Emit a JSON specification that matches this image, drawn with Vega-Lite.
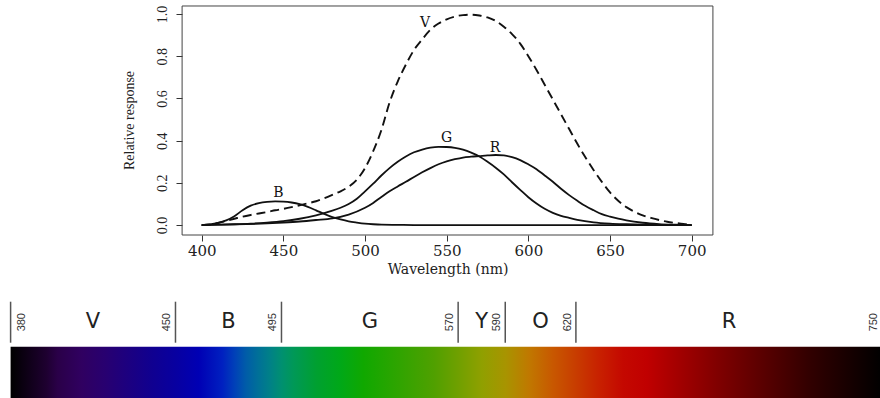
{
  "$schema": "https://vega.github.io/schema/vega-lite/v6.json",
  "padding": 0,
  "background": "white",
  "config": {"view": {"stroke": null}},
  "bounds": "flush",
  "spacing": 66.7,
  "datasets": {
    "curves": [
      {"curve": "V", "wl": 400, "resp": 0.0}, {"curve": "V", "wl": 405, "resp": 0.003}, {"curve": "V", "wl": 410, "resp": 0.01}, {"curve": "V", "wl": 415, "resp": 0.02},
      {"curve": "V", "wl": 420, "resp": 0.03}, {"curve": "V", "wl": 425, "resp": 0.04}, {"curve": "V", "wl": 430, "resp": 0.048}, {"curve": "V", "wl": 435, "resp": 0.055},
      {"curve": "V", "wl": 440, "resp": 0.062}, {"curve": "V", "wl": 445, "resp": 0.07}, {"curve": "V", "wl": 450, "resp": 0.077}, {"curve": "V", "wl": 455, "resp": 0.085},
      {"curve": "V", "wl": 460, "resp": 0.094}, {"curve": "V", "wl": 465, "resp": 0.103}, {"curve": "V", "wl": 470, "resp": 0.113}, {"curve": "V", "wl": 475, "resp": 0.127},
      {"curve": "V", "wl": 480, "resp": 0.143}, {"curve": "V", "wl": 485, "resp": 0.16}, {"curve": "V", "wl": 490, "resp": 0.182}, {"curve": "V", "wl": 495, "resp": 0.215},
      {"curve": "V", "wl": 500, "resp": 0.27}, {"curve": "V", "wl": 505, "resp": 0.35}, {"curve": "V", "wl": 510, "resp": 0.45}, {"curve": "V", "wl": 515, "resp": 0.58},
      {"curve": "V", "wl": 520, "resp": 0.68}, {"curve": "V", "wl": 525, "resp": 0.76}, {"curve": "V", "wl": 530, "resp": 0.83}, {"curve": "V", "wl": 535, "resp": 0.88},
      {"curve": "V", "wl": 540, "resp": 0.925}, {"curve": "V", "wl": 545, "resp": 0.955}, {"curve": "V", "wl": 550, "resp": 0.975}, {"curve": "V", "wl": 555, "resp": 0.988},
      {"curve": "V", "wl": 560, "resp": 0.995}, {"curve": "V", "wl": 565, "resp": 0.997}, {"curve": "V", "wl": 570, "resp": 0.993}, {"curve": "V", "wl": 575, "resp": 0.984},
      {"curve": "V", "wl": 580, "resp": 0.967}, {"curve": "V", "wl": 585, "resp": 0.94}, {"curve": "V", "wl": 590, "resp": 0.905}, {"curve": "V", "wl": 595, "resp": 0.86},
      {"curve": "V", "wl": 600, "resp": 0.8}, {"curve": "V", "wl": 605, "resp": 0.735}, {"curve": "V", "wl": 610, "resp": 0.665}, {"curve": "V", "wl": 615, "resp": 0.595},
      {"curve": "V", "wl": 620, "resp": 0.525}, {"curve": "V", "wl": 625, "resp": 0.455}, {"curve": "V", "wl": 630, "resp": 0.385}, {"curve": "V", "wl": 635, "resp": 0.32},
      {"curve": "V", "wl": 640, "resp": 0.26}, {"curve": "V", "wl": 645, "resp": 0.205}, {"curve": "V", "wl": 650, "resp": 0.155}, {"curve": "V", "wl": 655, "resp": 0.115},
      {"curve": "V", "wl": 660, "resp": 0.085}, {"curve": "V", "wl": 665, "resp": 0.063}, {"curve": "V", "wl": 670, "resp": 0.046}, {"curve": "V", "wl": 675, "resp": 0.034},
      {"curve": "V", "wl": 680, "resp": 0.024}, {"curve": "V", "wl": 685, "resp": 0.016}, {"curve": "V", "wl": 690, "resp": 0.01}, {"curve": "V", "wl": 695, "resp": 0.005},
      {"curve": "V", "wl": 700, "resp": 0.002},
      {"curve": "B", "wl": 400, "resp": 0.0}, {"curve": "B", "wl": 405, "resp": 0.003}, {"curve": "B", "wl": 410, "resp": 0.01}, {"curve": "B", "wl": 415, "resp": 0.022},
      {"curve": "B", "wl": 420, "resp": 0.042}, {"curve": "B", "wl": 425, "resp": 0.07}, {"curve": "B", "wl": 430, "resp": 0.092}, {"curve": "B", "wl": 435, "resp": 0.104},
      {"curve": "B", "wl": 440, "resp": 0.11}, {"curve": "B", "wl": 445, "resp": 0.112}, {"curve": "B", "wl": 450, "resp": 0.111}, {"curve": "B", "wl": 455, "resp": 0.107},
      {"curve": "B", "wl": 460, "resp": 0.099}, {"curve": "B", "wl": 465, "resp": 0.086}, {"curve": "B", "wl": 470, "resp": 0.07}, {"curve": "B", "wl": 475, "resp": 0.053},
      {"curve": "B", "wl": 480, "resp": 0.038}, {"curve": "B", "wl": 485, "resp": 0.027}, {"curve": "B", "wl": 490, "resp": 0.018}, {"curve": "B", "wl": 495, "resp": 0.012},
      {"curve": "B", "wl": 500, "resp": 0.007}, {"curve": "B", "wl": 505, "resp": 0.004}, {"curve": "B", "wl": 510, "resp": 0.002}, {"curve": "B", "wl": 520, "resp": 0.001},
      {"curve": "B", "wl": 530, "resp": 0.0}, {"curve": "B", "wl": 600, "resp": 0.0}, {"curve": "B", "wl": 700, "resp": 0.0},
      {"curve": "G", "wl": 400, "resp": 0.0}, {"curve": "G", "wl": 410, "resp": 0.002}, {"curve": "G", "wl": 420, "resp": 0.004}, {"curve": "G", "wl": 430, "resp": 0.007},
      {"curve": "G", "wl": 440, "resp": 0.012}, {"curve": "G", "wl": 450, "resp": 0.019}, {"curve": "G", "wl": 460, "resp": 0.03}, {"curve": "G", "wl": 470, "resp": 0.046},
      {"curve": "G", "wl": 480, "resp": 0.068}, {"curve": "G", "wl": 485, "resp": 0.082}, {"curve": "G", "wl": 490, "resp": 0.1}, {"curve": "G", "wl": 495, "resp": 0.125},
      {"curve": "G", "wl": 500, "resp": 0.16}, {"curve": "G", "wl": 505, "resp": 0.196}, {"curve": "G", "wl": 510, "resp": 0.235}, {"curve": "G", "wl": 515, "resp": 0.27},
      {"curve": "G", "wl": 520, "resp": 0.3}, {"curve": "G", "wl": 525, "resp": 0.325}, {"curve": "G", "wl": 530, "resp": 0.345}, {"curve": "G", "wl": 535, "resp": 0.358},
      {"curve": "G", "wl": 540, "resp": 0.367}, {"curve": "G", "wl": 545, "resp": 0.371}, {"curve": "G", "wl": 550, "resp": 0.37}, {"curve": "G", "wl": 555, "resp": 0.366},
      {"curve": "G", "wl": 560, "resp": 0.357}, {"curve": "G", "wl": 565, "resp": 0.343}, {"curve": "G", "wl": 570, "resp": 0.325}, {"curve": "G", "wl": 575, "resp": 0.3},
      {"curve": "G", "wl": 580, "resp": 0.272}, {"curve": "G", "wl": 585, "resp": 0.24}, {"curve": "G", "wl": 590, "resp": 0.203}, {"curve": "G", "wl": 595, "resp": 0.167},
      {"curve": "G", "wl": 600, "resp": 0.132}, {"curve": "G", "wl": 605, "resp": 0.102}, {"curve": "G", "wl": 610, "resp": 0.077}, {"curve": "G", "wl": 615, "resp": 0.058},
      {"curve": "G", "wl": 620, "resp": 0.044}, {"curve": "G", "wl": 625, "resp": 0.034}, {"curve": "G", "wl": 630, "resp": 0.025}, {"curve": "G", "wl": 640, "resp": 0.013},
      {"curve": "G", "wl": 650, "resp": 0.007}, {"curve": "G", "wl": 660, "resp": 0.004}, {"curve": "G", "wl": 670, "resp": 0.002}, {"curve": "G", "wl": 685, "resp": 0.001},
      {"curve": "G", "wl": 700, "resp": 0.0},
      {"curve": "R", "wl": 400, "resp": 0.0}, {"curve": "R", "wl": 420, "resp": 0.003}, {"curve": "R", "wl": 440, "resp": 0.008}, {"curve": "R", "wl": 450, "resp": 0.012},
      {"curve": "R", "wl": 460, "resp": 0.017}, {"curve": "R", "wl": 470, "resp": 0.024}, {"curve": "R", "wl": 480, "resp": 0.032}, {"curve": "R", "wl": 490, "resp": 0.05},
      {"curve": "R", "wl": 500, "resp": 0.082}, {"curve": "R", "wl": 505, "resp": 0.105}, {"curve": "R", "wl": 510, "resp": 0.133}, {"curve": "R", "wl": 515, "resp": 0.16},
      {"curve": "R", "wl": 520, "resp": 0.183}, {"curve": "R", "wl": 525, "resp": 0.205}, {"curve": "R", "wl": 530, "resp": 0.228}, {"curve": "R", "wl": 535, "resp": 0.25},
      {"curve": "R", "wl": 540, "resp": 0.27}, {"curve": "R", "wl": 545, "resp": 0.288}, {"curve": "R", "wl": 550, "resp": 0.302}, {"curve": "R", "wl": 555, "resp": 0.312},
      {"curve": "R", "wl": 560, "resp": 0.32}, {"curve": "R", "wl": 565, "resp": 0.324}, {"curve": "R", "wl": 570, "resp": 0.327}, {"curve": "R", "wl": 575, "resp": 0.33},
      {"curve": "R", "wl": 580, "resp": 0.332}, {"curve": "R", "wl": 585, "resp": 0.33}, {"curve": "R", "wl": 590, "resp": 0.322}, {"curve": "R", "wl": 595, "resp": 0.308},
      {"curve": "R", "wl": 600, "resp": 0.288}, {"curve": "R", "wl": 605, "resp": 0.265}, {"curve": "R", "wl": 610, "resp": 0.235}, {"curve": "R", "wl": 615, "resp": 0.205},
      {"curve": "R", "wl": 620, "resp": 0.172}, {"curve": "R", "wl": 625, "resp": 0.142}, {"curve": "R", "wl": 630, "resp": 0.115}, {"curve": "R", "wl": 635, "resp": 0.09},
      {"curve": "R", "wl": 640, "resp": 0.07}, {"curve": "R", "wl": 645, "resp": 0.052}, {"curve": "R", "wl": 650, "resp": 0.04}, {"curve": "R", "wl": 655, "resp": 0.03},
      {"curve": "R", "wl": 660, "resp": 0.022}, {"curve": "R", "wl": 670, "resp": 0.011}, {"curve": "R", "wl": 680, "resp": 0.005}, {"curve": "R", "wl": 690, "resp": 0.002},
      {"curve": "R", "wl": 700, "resp": 0.0}
    ],
    "curveLabels": [
      {"label": "V", "wl": 536.7, "resp": 0.956},
      {"label": "G", "wl": 550, "resp": 0.411},
      {"label": "R", "wl": 579.6, "resp": 0.366},
      {"label": "B", "wl": 446.9, "resp": 0.15}
    ],
    "frame": [{"wl": 388, "wl2": 713, "resp": -0.047, "resp2": 1.038}],
    "bands": [
      {"band": "V", "start": 380, "end": 450, "mid": 415},
      {"band": "B", "start": 450, "end": 495, "mid": 472.5},
      {"band": "G", "start": 495, "end": 570, "mid": 532.5},
      {"band": "Y", "start": 570, "end": 590, "mid": 580},
      {"band": "O", "start": 590, "end": 620, "mid": 605},
      {"band": "R", "start": 620, "end": 750, "mid": 685}
    ],
    "bounds": [{"nm": 380}, {"nm": 450}, {"nm": 495}, {"nm": 570}, {"nm": 590}, {"nm": 620}, {"nm": 750}],
    "spectrum": [{"start": 380, "end": 750}]
  },
  "vconcat": [
    {
      "width": 880,
      "height": 235,
      "encoding": {
        "x": {
          "field": "wl", "type": "quantitative",
          "scale": {"domain": [276.5, 815.3], "nice": false, "zero": false},
          "axis": {
            "values": [400, 450, 500, 550, 600, 650, 700], "domain": false, "grid": false,
            "tickSize": 6, "tickColor": "#333", "tickWidth": 1,
            "labelFont": "DejaVu Serif", "labelFontSize": 15, "labelColor": "#222", "labelPadding": 2,
            "labelFlush": false, "labelOverlap": false,
            "title": "Wavelength (nm)", "titleFont": "DejaVu Serif", "titleFontSize": 14, "titleFontWeight": "normal",
            "titleColor": "#222", "titleX": 447.5, "titleY": 38, "titleAlign": "center", "titleBaseline": "alphabetic"
          }
        },
        "y": {
          "field": "resp", "type": "quantitative",
          "scale": {"domain": [-0.047, 1.0664], "nice": false, "zero": false},
          "axis": {
            "values": [0, 0.2, 0.4, 0.6, 0.8, 1.0], "format": ".1f", "offset": -182, "domain": false, "grid": false,
            "tickSize": 6, "tickColor": "#333", "tickWidth": 1,
            "labelAngle": 270, "labelAlign": "center", "labelBaseline": "alphabetic", "labelPadding": 10,
            "labelFont": "Liberation Serif", "labelFontSize": 14, "labelColor": "#222",
            "title": "Relative response", "titleFont": "Liberation Serif", "titleFontSize": 14, "titleFontWeight": "normal",
            "titleColor": "#222", "titleAngle": 270, "titleX": -49, "titleY": 120, "titleAlign": "center", "titleBaseline": "alphabetic"
          }
        }
      },
      "layer": [
        {
          "data": {"name": "frame"},
          "mark": {"type": "rect", "fill": "transparent", "stroke": "#444", "strokeWidth": 1},
          "encoding": {"x2": {"field": "wl2"}, "y2": {"field": "resp2"}}
        },
        {
          "data": {"name": "curves"},
          "transform": [{"filter": "datum.curve !== 'V'"}],
          "mark": {"type": "line", "color": "#111", "strokeWidth": 1.8, "interpolate": "monotone"},
          "encoding": {"detail": {"field": "curve"}}
        },
        {
          "data": {"name": "curves"},
          "transform": [{"filter": "datum.curve === 'V'"}],
          "mark": {"type": "line", "color": "#111", "strokeWidth": 1.9, "strokeDash": [9, 5], "interpolate": "monotone"},
          "encoding": {"detail": {"field": "curve"}}
        },
        {
          "data": {"name": "curveLabels"},
          "mark": {"type": "text", "font": "DejaVu Serif", "fontSize": 14, "color": "#111", "align": "center", "baseline": "middle"},
          "encoding": {"text": {"field": "label"}}
        }
      ]
    },
    {
      "bounds": "flush",
      "spacing": 4,
      "vconcat": [
        {
          "width": 880,
          "height": 41,
          "layer": [
            {
              "data": {"name": "bounds"},
              "mark": {"type": "rule", "color": "#555", "strokeWidth": 1.5},
              "encoding": {
                "x": {"field": "nm", "type": "quantitative", "scale": {"domain": [375.5, 749.1], "nice": false, "zero": false}, "axis": null}
              }
            },
            {
              "data": {"name": "bands"},
              "mark": {"type": "text", "font": "DejaVu Sans", "fontSize": 21, "color": "#222", "align": "center", "baseline": "middle"},
              "encoding": {
                "x": {"field": "mid", "type": "quantitative", "axis": null},
                "text": {"field": "band"}
              }
            },
            {
              "data": {"name": "bounds"},
              "transform": [{"filter": "datum.nm !== 380"}],
              "mark": {"type": "text", "font": "Liberation Sans", "fontSize": 11, "color": "#333", "angle": 270, "align": "center", "baseline": "middle", "dy": -8},
              "encoding": {
                "x": {"field": "nm", "type": "quantitative", "axis": null},
                "text": {"field": "nm"}
              }
            },
            {
              "data": {"name": "bounds"},
              "transform": [{"filter": "datum.nm === 380"}],
              "mark": {"type": "text", "font": "Liberation Sans", "fontSize": 11, "color": "#333", "angle": 270, "align": "center", "baseline": "middle", "dy": 11},
              "encoding": {
                "x": {"field": "nm", "type": "quantitative", "axis": null},
                "text": {"field": "nm"}
              }
            }
          ]
        },
        {
          "width": 880,
          "height": 52,
          "data": {"name": "spectrum"},
          "mark": {
            "type": "rect",
            "fill": {
              "gradient": "linear", "x1": 0, "y1": 0, "x2": 1, "y2": 0,
              "stops": [
                {"offset": 0.0, "color": "#000000"},
                {"offset": 0.041, "color": "#1e0030"},
                {"offset": 0.054, "color": "#2a0048"},
                {"offset": 0.081, "color": "#300060"},
                {"offset": 0.108, "color": "#280070"},
                {"offset": 0.135, "color": "#1c0080"},
                {"offset": 0.162, "color": "#100090"},
                {"offset": 0.189, "color": "#0800a0"},
                {"offset": 0.216, "color": "#0000b4"},
                {"offset": 0.243, "color": "#0020c0"},
                {"offset": 0.257, "color": "#0040b8"},
                {"offset": 0.27, "color": "#005ca8"},
                {"offset": 0.284, "color": "#007098"},
                {"offset": 0.297, "color": "#008088"},
                {"offset": 0.311, "color": "#009070"},
                {"offset": 0.324, "color": "#009858"},
                {"offset": 0.351, "color": "#00a030"},
                {"offset": 0.378, "color": "#00a818"},
                {"offset": 0.405, "color": "#10a800"},
                {"offset": 0.446, "color": "#30a400"},
                {"offset": 0.486, "color": "#50a000"},
                {"offset": 0.514, "color": "#70a000"},
                {"offset": 0.541, "color": "#90a000"},
                {"offset": 0.568, "color": "#a89400"},
                {"offset": 0.595, "color": "#c07800"},
                {"offset": 0.622, "color": "#c85800"},
                {"offset": 0.649, "color": "#c83c00"},
                {"offset": 0.676, "color": "#c82000"},
                {"offset": 0.703, "color": "#c40800"},
                {"offset": 0.73, "color": "#c00000"},
                {"offset": 0.77, "color": "#a00000"},
                {"offset": 0.811, "color": "#800000"},
                {"offset": 0.865, "color": "#580000"},
                {"offset": 0.919, "color": "#300000"},
                {"offset": 0.973, "color": "#100000"},
                {"offset": 1.0, "color": "#000000"}
              ]
            }
          },
          "encoding": {
            "x": {"field": "start", "type": "quantitative", "scale": {"domain": [375.5, 749.1], "nice": false, "zero": false}, "axis": null},
            "x2": {"field": "end"}
          }
        }
      ]
    }
  ]
}
